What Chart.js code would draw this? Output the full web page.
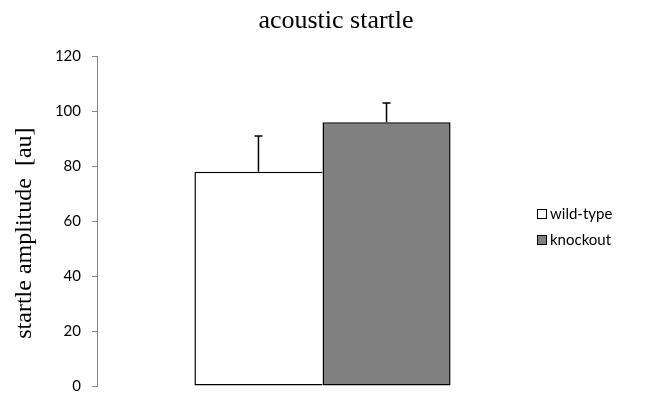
<!DOCTYPE html>
<html>
<head>
<meta charset="utf-8">
<script src="https://cdn.jsdelivr.net/npm/chart.js@4.4.1/dist/chart.umd.min.js"></script>
<style>
  html, body { margin: 0; padding: 0; background: #fff; }
  #wrap { width: 672px; height: 393px; }
</style>
</head>
<body>
<div id="wrap"><canvas id="myChart" width="672" height="393"></canvas></div>
<script>
var grupos = ["wild-type", "knockout"];
var amplitud = [78, 96];
var error_sd = [13, 7];
var colores = ["#ffffff", "#808080"];
var y_ticks = [0, 20, 40, 60, 80, 100, 120];

// borders: the two bars touch, so the first one leaves its right side to the second
var bordes = [
    { top: 1.5, left: 1.5, right: 0, bottom: 1.5 },
    { top: 1.5, left: 1.5, right: 1.5, bottom: 1.5 }
];

// error bars on top of each bar (upper whisker only)
var errorBars = {
    id: 'errorBars',
    afterDatasetsDraw: function(chart)
    {
        var ctx = chart.ctx;
        var y = chart.scales.y;
        ctx.save();
        ctx.strokeStyle = '#000';
        ctx.lineWidth = 1.5;
        for (var i = 0; i < grupos.length; i++)
        {
            var bar = chart.getDatasetMeta(i).data[0];
            var top = y.getPixelForValue(amplitud[i] + error_sd[i]);
            ctx.beginPath();
            ctx.moveTo(bar.x, bar.y);
            ctx.lineTo(bar.x, top);
            ctx.moveTo(bar.x - 4, top);
            ctx.lineTo(bar.x + 4, top);
            ctx.stroke();
        }
        ctx.restore();
    }
};

// legend at the right, square boxes
var leyenda = {
    id: 'leyenda',
    afterDraw: function(chart)
    {
        var ctx = chart.ctx;
        ctx.save();
        ctx.font = '15px Lato';
        ctx.textBaseline = 'middle';
        for (var i = 0; i < grupos.length; i++)
        {
            var yy = 214 + i * 26;
            ctx.fillStyle = colores[i];
            ctx.fillRect(537.5, yy - 4.5, 9, 9);
            ctx.strokeStyle = '#000';
            ctx.lineWidth = 1;
            ctx.strokeRect(537.5, yy - 4.5, 9, 9);
            ctx.fillStyle = '#000';
            ctx.fillText(grupos[i], 550, yy);
        }
        ctx.restore();
    }
};

var ctx = document.getElementById("myChart").getContext('2d');
var myChart = new Chart(ctx, {
    type: 'bar',
    data: {
        labels: [''],
        datasets: grupos.map(function(g, i) {
            return {
                label: g,
                data: [amplitud[i]],
                yAxisID: 'y',
                backgroundColor: colores[i],
                borderColor: '#000',
                borderWidth: bordes[i],
                borderSkipped: false
            };
        })
    },
    options: {
        responsive: false,
        animation: false,
        layout: { padding: { left: 0, right: 0, top: 0, bottom: 7 } },
        datasets: { bar: { categoryPercentage: 0.568, barPercentage: 1 } },
        plugins: {
            legend: { display: false },
            tooltip: { enabled: false },
            title: {
                display: true,
                text: 'acoustic startle',
                color: '#000',
                font: { family: 'Liberation Serif', size: 26, weight: 'normal' },
                padding: { top: 6, bottom: 19 }
            }
        },
        scales: {
            x: { display: false },
            // empty right axis, keeps room for the legend
            y2: {
                position: 'right',
                display: true,
                grid: { display: false },
                border: { display: false },
                ticks: { display: false },
                afterFit: function(s) { s.width = 124; }
            },
            y: {
                min: 0,
                max: 120,
                afterFit: function(s) {
                    s.width = 97;
                    s.paddingTop = 0;
                    s.paddingBottom = 0;
                },
                afterBuildTicks: function(s) {
                    s.ticks = y_ticks.map(function(v) { return { value: v }; });
                },
                grid: { drawOnChartArea: false, drawTicks: true, tickLength: 5, color: '#868686' },
                border: { display: true, color: '#868686', width: 1 },
                ticks: { color: '#000', padding: 11, font: { family: 'Lato', size: 15 } },
                title: {
                    display: true,
                    text: 'startle amplitude  [au]    ',
                    color: '#000',
                    font: { family: 'Liberation Serif', size: 24, weight: 'normal' },
                    padding: { top: 10, bottom: 0 }
                }
            }
        }
    },
    plugins: [errorBars, leyenda]
});
</script>
</body>
</html>
